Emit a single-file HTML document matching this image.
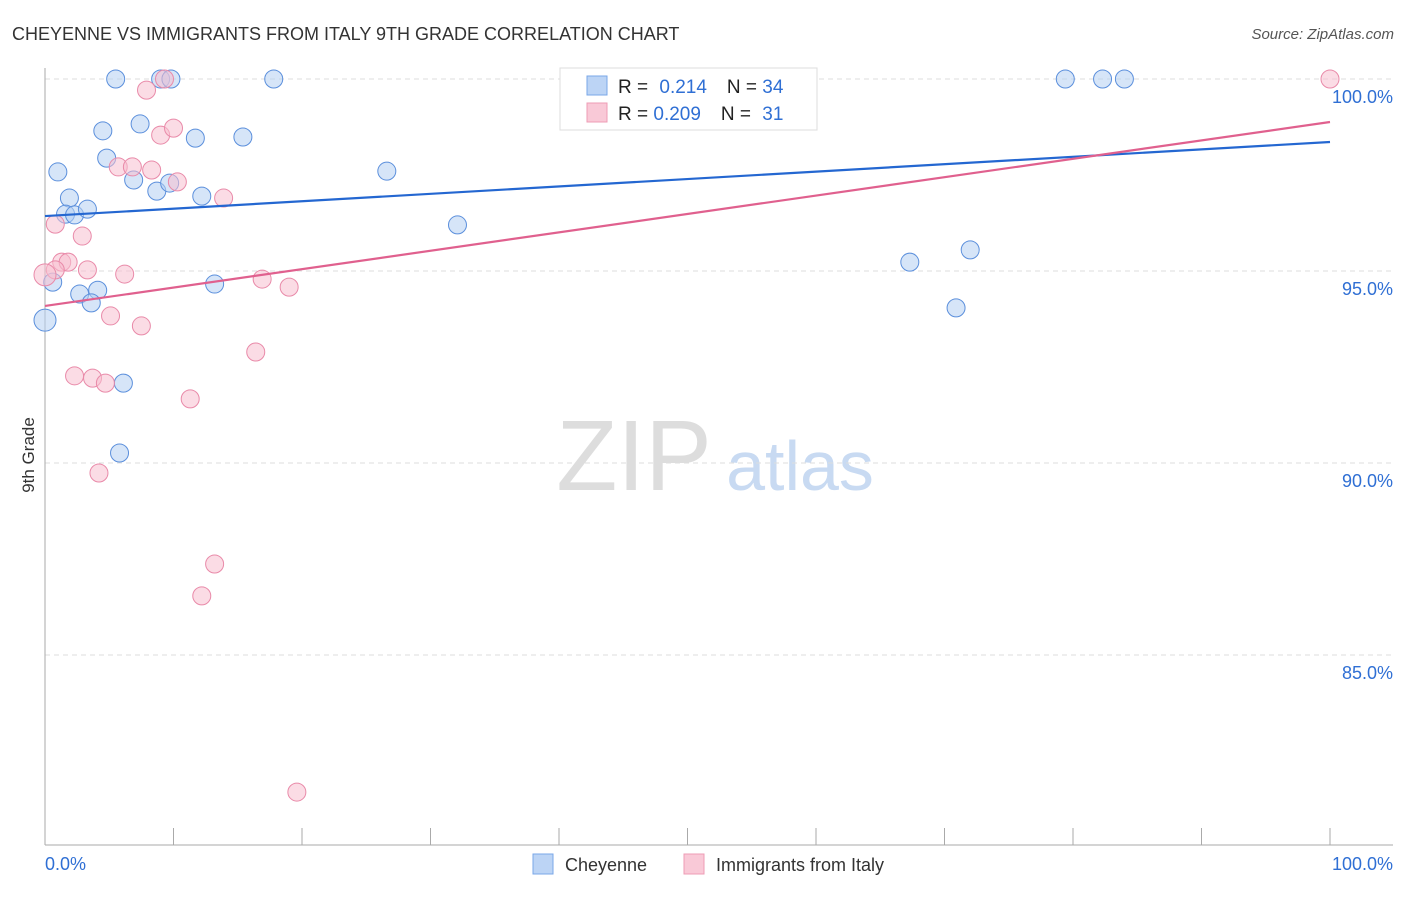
<!DOCTYPE html>
<html><head><meta charset="utf-8"><style>
body{margin:0;background:#fff;font-family:"Liberation Sans",sans-serif}
svg text{font-family:"Liberation Sans",sans-serif}
</style></head><body>
<svg id="c" width="1406" height="892">
<text x="12" y="40" font-size="18" fill="#333">CHEYENNE VS IMMIGRANTS FROM ITALY 9TH GRADE CORRELATION CHART</text>
<text x="1394" y="39" font-size="15" fill="#555" font-style="italic" text-anchor="end">Source: ZipAtlas.com</text>
<text x="634" y="490" font-size="100" fill="#ddd" font-family="Liberation Serif" text-anchor="middle">ZIP</text>
<text x="800" y="490" font-size="70" fill="#c8daf2" text-anchor="middle">atlas</text>
<text transform="translate(34,455) rotate(-90)" font-size="17" fill="#333" text-anchor="middle">9th Grade</text>
<g id="grid"></g><g id="pts"></g><g id="lines"></g>
<g>
<rect x="560" y="68" width="257" height="62" fill="#fff" stroke="#ddd"/>
<rect x="587" y="76" width="20" height="19" fill="#bcd4f5" stroke="#7aa7e8"/>
<rect x="587" y="103" width="20" height="19" fill="#f9c9d7" stroke="#ee9cb5"/>
<text x="618" y="93" font-size="19" fill="#222">R = <tspan fill="#2f6fd4" dx="6">0.214</tspan><tspan dx="20">N = </tspan><tspan fill="#2f6fd4">34</tspan></text>
<text x="618" y="120" font-size="19" fill="#222">R = <tspan fill="#2f6fd4">0.209</tspan><tspan dx="20">N = </tspan><tspan fill="#2f6fd4" dx="6">31</tspan></text>
</g>
<g>
<rect x="533" y="854" width="20" height="20" fill="#bcd4f5" stroke="#7aa7e8"/>
<text x="565" y="871" font-size="18" fill="#333">Cheyenne</text>
<rect x="684" y="854" width="20" height="20" fill="#f9c9d7" stroke="#ee9cb5"/>
<text x="716" y="871" font-size="18" fill="#333">Immigrants from Italy</text>
</g>
<text x="45" y="870" font-size="18" fill="#2f6fd4">0.0%</text>
<text x="1393" y="870" font-size="18" fill="#2f6fd4" text-anchor="end">100.0%</text>
</svg>
<script>
const yTicks=[100,95,90,85];
const xTicks=[0,10,20,30,40,50,60,70,80,90,100];
const blueX=[5.5,9.0,9.8,17.8,79.4,82.3,84.0,7.4,4.5,11.7,15.4,4.8,1.0,26.6,6.9,8.7,9.7,12.2,1.9,1.6,2.3,3.3,32.1,72.0,67.3,13.2,0.6,2.7,4.1,3.6,0,70.9,6.1,5.8];
const blueY=[100,100,100,100,100,100,100,98.83,98.65,98.46,98.49,97.94,97.58,97.6,97.37,97.08,97.29,96.95,96.9,96.48,96.46,96.61,96.2,95.55,95.23,94.66,94.71,94.4,94.5,94.17,93.72,94.04,92.08,90.26];
const pinkX=[9.3,100,7.9,9.0,10.0,5.7,6.8,8.3,10.3,13.9,0.8,2.9,1.3,1.8,0.8,0,3.3,6.2,16.9,19.0,5.1,7.5,16.4,2.3,3.7,4.7,11.3,4.2,13.2,12.2,19.6];
const pinkY=[100,100,99.71,98.54,98.72,97.71,97.71,97.63,97.32,96.9,96.22,95.91,95.23,95.23,95.03,94.9,95.03,94.92,94.79,94.58,93.83,93.57,92.89,92.27,92.21,92.08,91.67,89.74,87.37,86.54,81.43];
const blueTrend=[96.43,98.36];
const pinkTrend=[94.09,98.88];
const NS='http://www.w3.org/2000/svg';
const sx=v=>45+v*12.85, sy=v=>79+(100-v)*38.4;
function mk(t,a,p){const e=document.createElementNS(NS,t);for(const k in a)e.setAttribute(k,a[k]);p.appendChild(e);return e;}
const grid=document.getElementById('grid');
yTicks.forEach(t=>{
 const l=mk('line',{x1:45,x2:1393,y1:sy(t),y2:sy(t),stroke:'#ddd','stroke-dasharray':'5,4'},grid);
 
 
 const tx=mk('text',{x:1393,y:sy(t)+24,'font-size':18,fill:'#2f6fd4','text-anchor':'end'},grid);
 tx.textContent=t.toFixed(1)+'%';
 
 
});
mk('line',{x1:45,x2:45,y1:68,y2:845,stroke:'#aaa'},grid);
mk('line',{x1:45,x2:1393,y1:845,y2:845,stroke:'#aaa'},grid);
xTicks.forEach(t=>{
 const l=mk('line',{x1:sx(t),x2:sx(t),y1:828,y2:845,stroke:'#aaa'},grid);
 
 
});
const pts=document.getElementById('pts');
function series(X,Y,fill,stroke,name){X.forEach((x,i)=>{
 const c=mk('circle',{cx:sx(x),cy:sy(Y[i]),r:x===0?11:9,fill:fill,'fill-opacity':0.55,stroke:stroke,'stroke-width':1},pts);
 
 
});}
series(blueX,blueY,'#b5cff3','#5b8fdc','cheyenne-point');
series(pinkX,pinkY,'#f7bfd0','#e98aa9','italy-point');
const lines=document.getElementById('lines');
const b=mk('line',{x1:sx(0),x2:sx(100),y1:sy(blueTrend[0]),y2:sy(blueTrend[1]),stroke:'#2467d1','stroke-width':2.2},lines);


const p=mk('line',{x1:sx(0),x2:sx(100),y1:sy(pinkTrend[0]),y2:sy(pinkTrend[1]),stroke:'#e0608e','stroke-width':2.2},lines);


</script>
</body></html>
